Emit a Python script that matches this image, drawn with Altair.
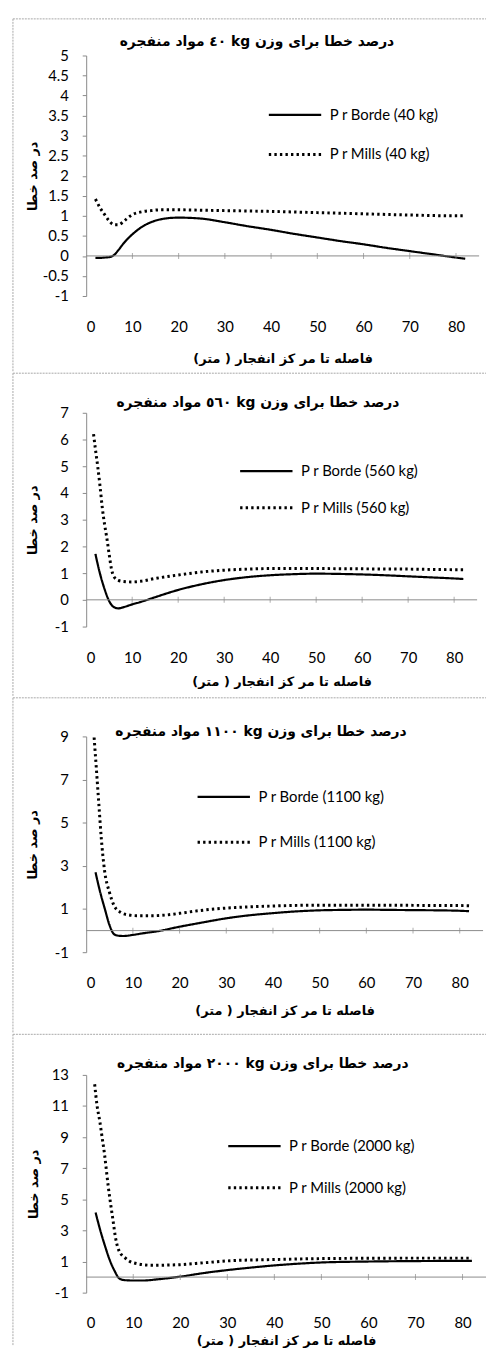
import altair as alt
import pandas as pd

# ---------------- data ----------------
x_ticks = [0, 10, 20, 30, 40, 50, 60, 70, 80]
zero_line_ticks = [10, 20, 30, 40, 50, 60, 70, 80]

# Panel 1 : 40 kg
borde40_x = [2, 3, 4, 5, 6, 7, 8, 9, 10, 12, 14, 16, 18, 20, 25, 30, 35, 40, 45, 50, 55, 60, 65, 70, 75, 80, 82]
borde40_y = [-0.05, -0.05, -0.04, -0.03, 0.02, 0.15, 0.3, 0.43, 0.54, 0.72, 0.84, 0.91, 0.945, 0.955, 0.93, 0.84, 0.74, 0.65, 0.55, 0.46, 0.37, 0.29, 0.2, 0.12, 0.04, -0.04, -0.07]
mills40_x = [2, 3, 4, 5, 6, 7, 8, 9, 10, 12, 14, 16, 20, 25, 30, 40, 50, 60, 70, 80, 82]
mills40_y = [1.42, 1.2, 1.03, 0.87, 0.78, 0.78, 0.85, 0.95, 1.03, 1.1, 1.13, 1.15, 1.15, 1.14, 1.13, 1.11, 1.08, 1.05, 1.02, 1.0, 1.0]

# Panel 2 : 560 kg
borde560_x = [2, 3, 4, 5, 6, 7, 8, 10, 12, 15, 20, 25, 30, 35, 40, 45, 50, 55, 60, 65, 70, 75, 80, 82]
borde560_y = [1.72, 0.98, 0.4, -0.05, -0.27, -0.32, -0.28, -0.17, -0.07, 0.1, 0.37, 0.58, 0.74, 0.85, 0.92, 0.96, 0.98, 0.97, 0.95, 0.92, 0.88, 0.84, 0.8, 0.78]
mills560_x = [1.6, 2, 2.5, 3, 3.5, 4, 4.5, 5, 5.5, 6, 7, 8, 10, 12, 15, 20, 25, 30, 35, 40, 50, 60, 70, 80, 82]
mills560_y = [6.2, 5.65, 5.0, 4.27, 3.45, 2.82, 2.3, 1.7, 1.15, 0.88, 0.73, 0.69, 0.67, 0.7, 0.8, 0.93, 1.04, 1.11, 1.15, 1.17, 1.17, 1.16, 1.15, 1.13, 1.13]

# Panel 3 : 1100 kg
borde1100_x = [2, 3, 4, 5, 6, 7, 8, 10, 12, 15, 20, 25, 30, 35, 40, 45, 50, 55, 60, 65, 70, 75, 80, 82]
borde1100_y = [2.7, 1.78, 1.0, 0.25, -0.17, -0.24, -0.25, -0.2, -0.13, -0.04, 0.18, 0.38, 0.57, 0.71, 0.81, 0.89, 0.94, 0.96, 0.97, 0.96, 0.95, 0.94, 0.92, 0.9]
mills1100_x = [1.7, 2.2, 2.7, 3.2, 3.9, 5, 6, 7.4, 9, 11, 14, 17, 20, 24, 28, 32, 40, 50, 60, 70, 80, 82]
mills1100_y = [8.95, 7.44, 5.9, 4.37, 2.84, 1.76, 1.15, 0.84, 0.73, 0.69, 0.69, 0.72, 0.8, 0.92, 1.01, 1.07, 1.14, 1.18, 1.18, 1.17, 1.16, 1.15]

# Panel 4 : 2000 kg
borde2000_x = [2, 3, 4, 5, 6, 7, 8, 10, 12, 15, 20, 25, 30, 35, 40, 45, 50, 60, 70, 80, 82]
borde2000_y = [4.15, 3.0, 2.0, 1.1, 0.42, -0.08, -0.19, -0.22, -0.22, -0.15, 0.03, 0.26, 0.45, 0.61, 0.75, 0.86, 0.94, 1.0, 1.03, 1.04, 1.04]
mills2000_x = [1.8, 2.3, 2.9, 3.4, 3.9, 4.3, 4.7, 5.2, 5.7, 6.2, 6.9, 8.4, 10, 14, 20, 25, 30, 40, 50, 60, 70, 80, 82]
mills2000_y = [12.4, 11.05, 10.0, 8.95, 7.9, 6.85, 5.8, 4.7, 3.65, 2.6, 1.75, 1.2, 0.92, 0.76, 0.8, 0.92, 1.04, 1.13, 1.19, 1.21, 1.22, 1.22, 1.22]

weights = ["40", "560", "1100", "2000"]
weights_fa = ["٤٠", "٥٦٠", "١١٠٠", "٢٠٠٠"]
y_domains = [[-1, 5], [-1, 7], [-1, 9], [-1, 13]]
y_ticks = [
    [-1, -0.5, 0, 0.5, 1, 1.5, 2, 2.5, 3, 3.5, 4, 4.5, 5],
    [-1, 0, 1, 2, 3, 4, 5, 6, 7],
    [-1, 1, 3, 5, 7, 9],
    [-1, 1, 3, 5, 7, 9, 11, 13],
]

y_title = "در صد خطا"
x_title = "فاصله تا مر کز انفجار ( متر)"


def rtl(s):
    return "\u202b" + s + "\u202c"


LAT = "Lato"
FA = "DejaVu Sans"
GRID = "#8a8a8a"
FRAME = "#a8a8a8"

# layout (pixels) for each panel
layout = [
    dict(w=397, h=243, top=-37, bottom=319, legx=183, legy=50, rowpad=20, ytp=3, xlp=24, xtp=18, tx=172, ttp=7),
    dict(w=395, h=216, top=-40, bottom=286, legx=154, legy=49, rowpad=17, ytp=15, xlp=24, xtp=11, tx=173, ttp=3),
    dict(w=401, h=218, top=-39, bottom=299, legx=111, legy=51, rowpad=26, ytp=15, xlp=24, xtp=14, tx=176, ttp=-2),
    dict(w=404, h=220, top=-41, bottom=273, legx=142, legy=62, rowpad=22, ytp=11, xlp=23, xtp=4, tx=178, ttp=4),
]

series = [
    (borde40_x, borde40_y, mills40_x, mills40_y),
    (borde560_x, borde560_y, mills560_x, mills560_y),
    (borde1100_x, borde1100_y, mills1100_x, mills1100_y),
    (borde2000_x, borde2000_y, mills2000_x, mills2000_y),
]

one = pd.DataFrame({"k": [0]})
zt = pd.DataFrame({"x": zero_line_ticks})


def panel(i):
    bx, by, mx, my = series[i]
    L = layout[i]
    kg = weights[i]
    borde = f"P r Borde ({kg} kg)"
    mills = f"P r Mills ({kg} kg)"
    df = pd.DataFrame({
        "x": list(bx) + list(mx),
        "y": list(by) + list(my),
        "s": [borde] * len(bx) + [mills] * len(mx),
    })
    xscale = alt.Scale(domain=[0, 85], nice=False, zero=False)
    yscale = alt.Scale(domain=y_domains[i], nice=False, zero=False)
    leg = alt.Legend(
        orient="none", legendX=L["legx"], legendY=L["legy"], title=None,
        symbolType="stroke", symbolSize=2800, symbolStrokeColor="black",
        labelFont=LAT, labelFontSize=15, labelColor="black", labelOffset=7,
        rowPadding=L["rowpad"], clipHeight=20, padding=0, symbolOffset=0,
    )
    yaxis = alt.Axis(
        values=y_ticks[i], grid=False, domainColor=GRID, tickColor=GRID, tickSize=4,
        labelFont=LAT, labelFontSize=15, labelColor="black", labelPadding=14,
        labelOverlap=False, labelSeparation=0, labelBound=False,
        labelExpr="datum.value + ''",
        title=rtl(y_title), titleFont=FA, titleFontSize=13, titleFontWeight="bold",
        titleColor="black", titlePadding=L["ytp"])
    lines = alt.Chart(df).mark_line(color="black", interpolate="monotone").encode(
        x=alt.X("x:Q", scale=xscale, axis=alt.Axis(
            orient="bottom", values=x_ticks, domain=False, ticks=False, grid=False,
            labelFont=LAT, labelFontSize=15, labelColor="black", labelPadding=L["xlp"],
            labelOverlap=False,
            title=rtl(x_title), titleFont=FA, titleFontSize=13, titleFontWeight="bold",
            titleColor="black", titlePadding=L["xtp"])),
        y=alt.Y("y:Q", scale=yscale, axis=yaxis),
        strokeDash=alt.StrokeDash("s:N", scale=alt.Scale(domain=[borde, mills], range=[[1, 0], [2.4, 3.2]]), legend=leg),
        strokeWidth=alt.StrokeWidth("s:N", scale=alt.Scale(type="ordinal", domain=[borde, mills], range=[2.2, 3.0]), legend=leg),
    )
    zero = alt.Chart(df).mark_rule(color=GRID, strokeWidth=1).encode(
        y=alt.Y("z:Q", scale=yscale, axis=yaxis)
    ).transform_aggregate(n="count()").transform_calculate(z="0")
    ticks = alt.Chart(zt).mark_tick(orient="vertical", size=6, thickness=1, color=GRID).encode(
        x=alt.X("x:Q", scale=xscale, axis=alt.Axis(
            orient="top", labels=False, ticks=False, domain=False, grid=False,
            title=rtl(f"درصد خطا برای وزن  kg {weights_fa[i]} مواد منفجره"),
            titleFont=FA, titleFontSize=14, titleFontWeight="bold", titleColor="black",
            titlePadding=L["ttp"], titleX=L["tx"])),
        y=alt.Y("z:Q", scale=yscale, axis=yaxis),
    ).transform_calculate(z="0")
    frame_top = alt.Chart(one).mark_rule(color=FRAME, strokeWidth=1, strokeDash=[2, 1]).encode(
        x=alt.value(-74), x2=alt.value(404), y=alt.value(L["top"]))
    frame_left = alt.Chart(one).mark_rule(color=FRAME, strokeWidth=1, strokeDash=[2, 1]).encode(
        x=alt.value(-74), y=alt.value(L["top"]), y2=alt.value(L["bottom"]))
    return alt.layer(lines, zero, ticks, frame_top, frame_left).resolve_axis(x="independent").properties(
        width=L["w"], height=L["h"])


chart = alt.vconcat(*[panel(i) for i in range(4)], spacing=0).resolve_scale(
    strokeDash="independent", strokeWidth="independent"
).resolve_legend(
    strokeDash="independent", strokeWidth="independent"
).properties(
    padding={"left": 4, "top": 3, "right": 2, "bottom": 0}, background="white"
).configure_view(stroke=None).configure_axis(labelOverlap=False)

chart.save("out.html", embed_options={"renderer": "svg", "actions": False})
